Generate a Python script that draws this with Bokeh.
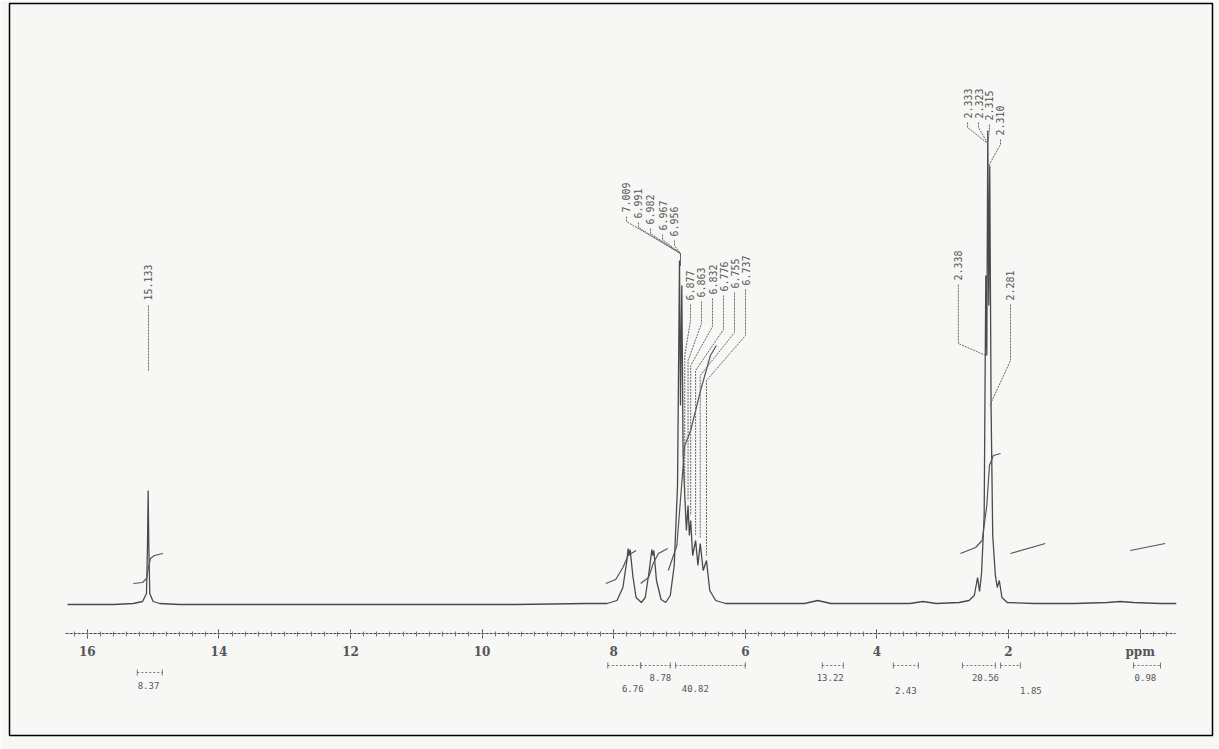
import numpy as np
from bokeh.plotting import figure
from bokeh.models import Range1d, FixedTicker, LinearAxis
from bokeh.core.properties import value
from bokeh.embed import file_html
from bokeh.resources import INLINE

# ---------------- data ----------------
# 1H spectrum trace: chemical shift (ppm) and intensity (arbitrary units)
spec_ppm = [16.30, 15.60, 15.30, 15.16, 15.10, 15.085, 15.075, 15.065, 15.05, 15.00, 14.90, 14.60,
            13.0, 11.0, 9.5, 8.40,
            8.10, 7.95, 7.86, 7.80, 7.78, 7.765, 7.75, 7.71, 7.66, 7.58, 7.52, 7.46, 7.42, 7.405,
            7.39, 7.35, 7.28, 7.21, 7.14, 7.08, 7.03, 7.00, 6.985, 6.965, 6.945, 6.92, 6.895,
            6.87, 6.85, 6.83, 6.80, 6.755, 6.72, 6.685, 6.64, 6.59, 6.54, 6.45, 6.30,
            5.60, 5.10, 4.90, 4.70, 3.80, 3.50, 3.30, 3.10,
            2.75, 2.60, 2.52, 2.47, 2.44, 2.41, 2.37, 2.345, 2.33, 2.315, 2.30, 2.285, 2.265,
            2.24, 2.20, 2.17, 2.14, 2.10, 2.02, 1.60, 1.00, 0.50, 0.30, 0.10, -0.30, -0.55]
spec_int = [1, 1, 2, 4, 12, 60, 115, 60, 12, 4, 2, 1,
            1, 1, 1, 2,
            2, 5, 18, 45, 57, 50, 56, 30, 8, 3, 8, 35, 56, 50,
            55, 25, 6, 3, 10, 40, 120, 345, 200, 320, 150, 110, 75,
            100, 70, 85, 50, 65, 40, 62, 35, 45, 15, 5, 2,
            2, 2, 5, 2, 2, 2, 4, 2,
            3, 5, 10, 28, 14, 32, 90, 330, 250, 475, 300, 440, 200,
            70, 30, 18, 25, 8, 3, 2, 2, 3, 4, 3, 2, 2]

# integral curves (ppm, integral height)
integral_ppm = [
    [15.30, 15.16, 15.10, 15.07, 15.04, 14.98, 14.85],
    [8.12, 7.97, 7.86, 7.78, 7.66],
    [7.59, 7.47, 7.40, 7.32, 7.18],
    [7.17, 7.04, 6.98, 6.92, 6.83, 6.68, 6.53, 6.44],
    [2.73, 2.50, 2.40, 2.33, 2.29, 2.23, 2.12],
    [1.97, 1.44],
    [0.15, -0.38],
]
integral_int = [
    [22, 23, 27, 38, 47, 50, 52],
    [22, 26, 38, 50, 55],
    [22, 28, 42, 52, 57],
    [35, 60, 110, 160, 175, 215, 250, 260],
    [52, 58, 65, 100, 140, 150, 152],
    [52, 62],
    [55, 62],
]

# integration values and their ranges (ppm)
integ_values = ["8.37", "6.76", "8.78", "40.82", "13.22", "2.43", "20.56", "1.85", "0.98"]
integ_start = [15.24, 8.09, 7.59, 7.06, 4.83, 3.75, 2.70, 2.12, 0.10]
integ_end = [14.86, 7.59, 7.14, 6.00, 4.51, 3.37, 2.20, 1.82, -0.31]

# peak-pick labels
peak_labels = ["15.133",
               "7.009", "6.991", "6.982", "6.967", "6.956",
               "6.877", "6.863", "6.832", "6.776", "6.755", "6.737",
               "2.333", "2.323", "2.315", "2.310",
               "2.338", "2.281"]
peak_ppm = [15.075,
            6.985, 6.985, 6.985, 6.985, 6.985,
            6.92, 6.87, 6.83, 6.755, 6.685, 6.59,
            2.315, 2.315, 2.315, 2.30,
            2.345, 2.285]

tick_values = [16, 14, 12, 10, 8, 6, 4, 2, 0]
tick_labels = ["16", "14", "12", "10", "8", "6", "4", "2", "ppm"]

# ---------------- layout (label placement) ----------------
lab_x = [15.07,
         7.806, 7.624, 7.441, 7.258, 7.076,
         6.833, 6.666, 6.498, 6.331, 6.164, 5.997,
         2.623, 2.456, 2.289, 2.122,
         2.762, 1.970]
lab_y = [305,
         393, 387, 381, 375, 369,
         305, 308, 311, 314, 317, 320,
         487, 487, 485, 470,
         325, 305]
leader_xs, leader_ys = [], []
# 15 ppm
leader_xs.append([15.07, 15.07]); leader_ys.append([300, 235])
# aromatic group 1 (converging)
for i in range(1, 6):
    leader_xs.append([lab_x[i], lab_x[i], 6.985, 6.985])
    leader_ys.append([lab_y[i] - 4, lab_y[i] - 9, 352, 340])
# aromatic group 2
pk_h2 = [110, 100, 85, 65, 62, 45]
for k, i in enumerate(range(6, 12)):
    leader_xs.append([lab_x[i], lab_x[i], peak_ppm[i], peak_ppm[i]])
    leader_ys.append([lab_y[i] - 4, lab_y[i] - 20 - 6 * k, lab_y[i] - 55 - 8 * k, pk_h2[k] + 5])
# methyl top group
for i in range(12, 16):
    leader_xs.append([lab_x[i], lab_x[i], peak_ppm[i]])
    leader_ys.append([lab_y[i] - 4, lab_y[i] - 9, 462 if i < 15 else 440])
# methyl side labels
leader_xs.append([2.762, 2.762, 2.345]); leader_ys.append([321, 262, 250])
leader_xs.append([1.970, 1.970, 2.285]); leader_ys.append([301, 245, 200])

integ_text_x = [15.07, 7.71, 7.29, 6.76, 4.71, 3.56, 2.35, 1.66, -0.08]
integ_text_y = [-80, -83, -72, -83, -72, -85, -72, -85, -72]
integ_bracket_y = [-67, -60, -60, -60, -60, -60, -60, -60, -60]

INK = "#4a4a4a"
PAPER = "#f7f7f5"

p = figure(width=1219, height=749,
           x_range=Range1d(17.182, -1.100), y_range=Range1d(-130, 602),
           x_axis_type=None, y_axis_type=None,
           output_backend="svg", toolbar_location=None,
           min_border_left=9, min_border_right=7, min_border_top=3, min_border_bottom=14)
p.outline_line_color = "black"
p.outline_line_width = 1.5
p.background_fill_color = PAPER
p.border_fill_color = PAPER
p.xgrid.visible = False
p.ygrid.visible = False

minor = [round(v, 2) for v in np.arange(-0.4, 16.3, 0.2)]
axis = LinearAxis(ticker=FixedTicker(ticks=tick_values, minor_ticks=minor), fixed_location=-28)
axis.axis_line_color = None
axis.major_label_overrides = {t: l for t, l in zip(tick_values, tick_labels)}
axis.major_label_text_font = "DejaVu Serif"
axis.major_label_text_font_style = "bold"
axis.major_label_text_font_size = "12px"
axis.major_label_text_color = "#555555"
axis.major_label_standoff = 6
axis.major_tick_in = 4
axis.major_tick_out = 5
axis.minor_tick_in = 2
axis.minor_tick_out = 3
axis.major_tick_line_color = INK
axis.minor_tick_line_color = "#777777"
p.add_layout(axis, "below")

# axis baseline
p.line([16.33, -0.54], [-28, -28], line_color=INK, line_width=1, line_dash="3 1")

# spectrum
p.line(spec_ppm, spec_int, line_color=INK, line_width=1.3)

# integrals
p.multi_line(integral_ppm, integral_int, line_color="#555555", line_width=1.2)

# peak labels and leaders
p.multi_line(leader_xs, leader_ys, line_color="#666666", line_width=1, line_dash="2 1")
p.text(lab_x, lab_y, text=peak_labels, angle=np.pi / 2, text_align="left",
       text_baseline="middle", text_font=value("DejaVu Sans Mono"),
       text_font_size="10px", text_color="#555555")

# integration brackets and values
p.segment(integ_start, integ_bracket_y, integ_end, integ_bracket_y,
          line_color="#777777", line_width=1, line_dash="2 2")
p.segment(integ_start, [y - 3 for y in integ_bracket_y], integ_start, [y + 3 for y in integ_bracket_y],
          line_color="#777777", line_width=1)
p.segment(integ_end, [y - 3 for y in integ_bracket_y], integ_end, [y + 3 for y in integ_bracket_y],
          line_color="#777777", line_width=1)
p.text(integ_text_x, integ_text_y, text=integ_values, text_align="center",
       text_baseline="middle", text_font=value("DejaVu Sans Mono"),
       text_font_size="9px", text_color="#555555")

open("out.html", "w").write(file_html(p, INLINE))
